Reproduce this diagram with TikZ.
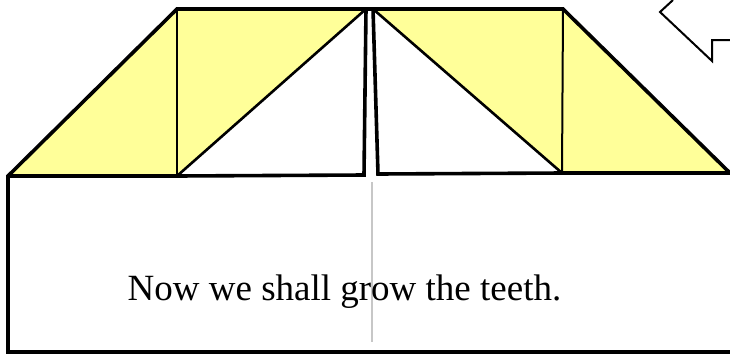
\documentclass[tikz,border=0pt]{standalone}
\usepackage{fontspec}
\setmainfont{Liberation Serif}
\definecolor{paleyellow}{RGB}{255,255,153}
\begin{document}
\begin{tikzpicture}[x=1pt,y=-1pt,
        heavy/.style={line width=3.6pt},
        medium/.style={line width=2.6pt},
        crease/.style={line width=2pt},
        guide/.style={line width=2pt,draw=black!22}]
    \useasboundingbox (0,0) rectangle (730,354);
    \clip (0,0) rectangle (730,354);

    % corners of the paper
    \coordinate (baseL) at (8,176);
    \coordinate (baseR) at (730,173);
    \coordinate (footL) at (8,352);
    \coordinate (footR) at (730,352);
    \coordinate (topL) at (177,9);
    \coordinate (topR) at (563,9);
    \coordinate (foldL) at (177,176);
    \coordinate (foldR) at (562,173);
    % the two teeth
    \coordinate (toothLtop) at (366,9);
    \coordinate (toothLbot) at (364,175);
    \coordinate (toothRtop) at (373,9);
    \coordinate (toothRbot) at (378,174);

    \begin{scope}
        \fill[paleyellow] (baseL) -- (topL) -- (toothLtop) -- (foldL) -- cycle;
        \fill[paleyellow] (toothRtop) -- (topR) -- (baseR) -- (foldR) -- cycle;

        \draw[crease] (topL) -- (foldL);
        \draw[crease] (topR) -- (foldR);
        \draw[medium] (toothLtop) -- (foldL);
        \draw[medium] (toothRtop) -- (foldR);

        \draw[heavy] (footR) -- (footL) -- (baseL) -- (topL) -- (topR) -- (baseR);
        \draw[heavy] (baseL) -- (foldL) -- (toothLbot) -- (toothLtop);
        \draw[heavy] (toothRtop) -- (toothRbot) -- (foldR) -- (baseR);
    \end{scope}

    % centre line
    \coordinate (guideTop) at (372,182);
    \coordinate (guideBot) at (372,342);
    \draw[guide] (guideTop) -- (guideBot);

    % arrow in the corner
    \coordinate (arrowA) at (673,0);
    \coordinate (arrowTip) at (660,12);
    \coordinate (arrowB) at (712,61);
    \coordinate (arrowC) at (712,40);
    \coordinate (arrowD) at (730,40);
    \draw[crease] (arrowA) -- (arrowTip) -- (arrowB) -- (arrowC) -- (arrowD);

    \node[anchor=base,inner sep=0pt,font=\fontsize{37}{44}\selectfont] (caption) at (344.5,300) {Now we shall grow the teeth.};
\end{tikzpicture}
\end{document}
